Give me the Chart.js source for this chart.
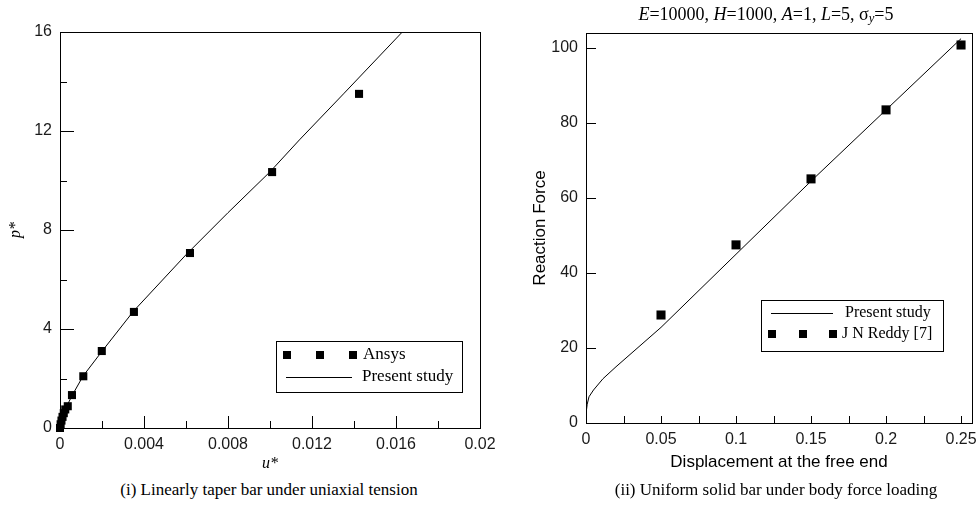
<!DOCTYPE html>
<html lang="en">
<head>
<meta charset="UTF-8">
<title>Bar response</title>
<style>
  html, body { margin: 0; padding: 0; background: #fff; }
  #wrap { position: relative; width: 980px; height: 508px; overflow: hidden; background: #fff; }
  canvas { position: absolute; top: 0; }
  #c1 { left: 0; }
  #c2 { left: 490px; }
  .cap { position: absolute; top: 480px; width: 400px; line-height: 20px; text-align: center;
         font-family: 'Liberation Serif', 'Times New Roman', serif; font-size: 17px; color: #000; }
</style>
</head>
<body>
<div id="wrap">
  <canvas id="c1" width="520" height="478"></canvas>
  <canvas id="c2" width="490" height="478"></canvas>
  <div class="cap" style="left:69px">(i) Linearly taper bar under uniaxial tension</div>
  <div class="cap" style="left:576px">(ii) Uniform solid bar under body force loading</div>
</div>
<script src="https://cdn.jsdelivr.net/npm/chart.js"></script>
<script>
// --- chart (i): taper bar ---
var uTicks = [0, 0.004, 0.008, 0.012, 0.016, 0.02];
var uMinor = [0.002, 0.006, 0.01, 0.014, 0.018];
var pTicks = [0, 4, 8, 12, 16];
var pMinor = [2, 6, 10, 14];
var ansysU = [0, 0.00003, 0.00007, 0.00012, 0.00018, 0.00025, 0.00037, 0.00057, 0.00111, 0.00199, 0.00352, 0.00619, 0.0101, 0.01424];
var ansysP = [0, 0.15, 0.3, 0.45, 0.6, 0.75, 0.88, 1.33, 2.09, 3.11, 4.69, 7.07, 10.34, 13.5];
var study1U = [0, 0.0001, 0.0003, 0.0006, 0.0011, 0.002, 0.0035, 0.006, 0.008, 0.01, 0.0114, 0.0135, 0.0163];
var study1P = [0, 0.35, 0.85, 1.35, 2.1, 3.1, 4.72, 7.0, 8.7, 10.35, 11.64, 13.5, 16];

// --- chart (ii): uniform bar ---
var dispTicks = [0, 0.05, 0.1, 0.15, 0.2, 0.25];
var dispMinor = [0.025, 0.075, 0.125, 0.175, 0.225];
var forceTicks = [0, 20, 40, 60, 80, 100];
var reddyU = [0.05, 0.1, 0.15, 0.2, 0.25];
var reddyF = [28.8, 47.5, 65.1, 83.5, 100.8];
var study2U = [0, 0, 0.0008, 0.002, 0.005, 0.0113, 0.02, 0.03, 0.05, 0.1, 0.15, 0.2, 0.25];
var study2F = [0, 2.5, 5, 7, 8.8, 11.8, 15, 18.5, 25.5, 45, 64.5, 83.5, 102.5];

function pts(xs, ys) {
  return xs.map(function(x, i) { return {x: x, y: ys[i]}; });
}
function fmt(v) { return String(Math.round(v * 1e6) / 1e6); }
function tickObjs(arr) { return arr.map(function(v) { return {value: v}; }); }

var sans = "'Liberation Sans', Arial, sans-serif";
var serif = "'Liberation Serif', 'Times New Roman', serif";

// box around the plot area
var framePlugin = {
  id: 'frame',
  afterDraw: function(chart) {
    var a = chart.chartArea, ctx = chart.ctx;
    ctx.save();
    ctx.strokeStyle = '#000';
    ctx.lineWidth = 1;
    ctx.strokeRect(Math.round(a.left) + 0.5, Math.round(a.top) + 0.5,
                   Math.round(a.right - a.left), Math.round(a.bottom - a.top));
    ctx.restore();
  }
};

// inward tick marks
var inTicksPlugin = {
  id: 'inTicks',
  afterDraw: function(chart, args, opts) {
    var a = chart.chartArea, ctx = chart.ctx;
    ctx.save();
    ctx.strokeStyle = '#000';
    ctx.lineWidth = 1;
    ctx.beginPath();
    (opts.x || []).forEach(function(set) {
      set.values.forEach(function(v) {
        var px = Math.round(chart.scales.x.getPixelForValue(v)) + 0.5;
        ctx.moveTo(px, a.bottom);
        ctx.lineTo(px, a.bottom - set.len);
      });
    });
    (opts.y || []).forEach(function(set) {
      set.values.forEach(function(v) {
        var py = Math.round(chart.scales.y.getPixelForValue(v)) + 0.5;
        ctx.moveTo(a.left, py);
        ctx.lineTo(a.left + set.len, py);
      });
    });
    ctx.stroke();
    ctx.restore();
  }
};

// legend box with three markers / line sample
var boxLegendPlugin = {
  id: 'boxLegend',
  afterDraw: function(chart, args, opts) {
    if (!opts.box) return;
    var ctx = chart.ctx, b = opts.box;
    ctx.save();
    ctx.fillStyle = '#fff';
    ctx.fillRect(b[0], b[1], b[2], b[3]);
    ctx.strokeStyle = '#000';
    ctx.lineWidth = 1;
    ctx.strokeRect(b[0] + 0.5, b[1] + 0.5, b[2], b[3]);
    ctx.font = opts.size + 'px ' + serif;
    ctx.textBaseline = 'middle';
    ctx.fillStyle = '#000';
    opts.rows.forEach(function(r) {
      if (r.marks) {
        r.marks.forEach(function(mx) {
          ctx.fillRect(mx - 4, r.y - 4, 8, 8);
        });
      } else {
        ctx.beginPath();
        ctx.moveTo(r.line[0], r.y + 0.5);
        ctx.lineTo(r.line[1], r.y + 0.5);
        ctx.stroke();
      }
      ctx.fillText(chart.data.datasets[r.ds].label, r.textX, r.y);
    });
    ctx.restore();
  }
};

// title with italic symbols
var richTitlePlugin = {
  id: 'richTitle',
  afterDraw: function(chart, args, opts) {
    if (!opts.parts) return;
    var ctx = chart.ctx;
    ctx.save();
    ctx.textBaseline = 'middle';
    ctx.fillStyle = '#000';
    function setFont(p) {
      ctx.font = (p.it ? 'italic ' : '') + (p.sub ? opts.size * 0.7 : opts.size) + 'px ' + serif;
    }
    var total = 0;
    opts.parts.forEach(function(p) { setFont(p); total += ctx.measureText(p.t).width; });
    var x = opts.cx - total / 2;
    opts.parts.forEach(function(p) {
      setFont(p);
      ctx.fillText(p.t, x, opts.cy + (p.sub ? 4 : 0));
      x += ctx.measureText(p.t).width;
    });
    ctx.restore();
  }
};

function axisX(min, max, ticks, title, titleFont, height) {
  return {
    type: 'linear', min: min, max: max,
    afterBuildTicks: function(s) { s.ticks = tickObjs(ticks); },
    afterFit: function(s) { s.height = height; s.paddingLeft = 0; s.paddingRight = 0; },
    grid: { display: false, drawTicks: false },
    border: { display: false },
    ticks: { padding: 7, color: '#1a1a1a', font: { family: sans, size: 16 }, maxRotation: 0, autoSkip: false,
             callback: function(v) { return fmt(v); } },
    title: { display: true, text: title, color: '#000', font: titleFont, padding: { top: 0, bottom: 5 } }
  };
}
function axisY(min, max, ticks, title, titleFont, width, tpad) {
  return {
    type: 'linear', min: min, max: max,
    afterBuildTicks: function(s) { s.ticks = tickObjs(ticks); },
    afterFit: function(s) { s.width = width; s.paddingTop = 0; s.paddingBottom = 0; },
    grid: { display: false, drawTicks: false },
    border: { display: false },
    ticks: { padding: 8, color: '#1a1a1a', font: { family: sans, size: 16 }, autoSkip: false,
             callback: function(v) { return fmt(v); } },
    title: { display: true, text: title, color: '#000', font: titleFont, padding: { top: tpad, bottom: 0 } }
  };
}

new Chart(document.getElementById('c1'), {
  type: 'scatter',
  data: {
    datasets: [{
      label: 'Ansys',
      data: pts(ansysU, ansysP),
      pointStyle: 'rect', pointRadius: 5.7, backgroundColor: '#000', borderWidth: 0,
      showLine: false, clip: false
    }, {
      label: 'Present study',
      data: pts(study1U, study1P),
      showLine: true, pointRadius: 0, borderColor: '#000', borderWidth: 1, tension: 0
    }]
  },
  options: {
    responsive: false, animation: false, devicePixelRatio: 1,
    layout: { padding: { left: 0, right: 40, top: 32, bottom: 0 } },
    scales: {
      x: axisX(0, 0.02, uTicks, 'u*', { family: serif, size: 16, style: 'italic' }, 50),
      y: axisY(0, 16, pTicks, 'p*', { family: serif, size: 16, style: 'italic' }, 60, 6)
    },
    plugins: {
      legend: { display: false },
      tooltip: { enabled: false },
      inTicks: {
        x: [{ values: uTicks, len: 12 }, { values: uMinor, len: 7 }],
        y: [{ values: pTicks, len: 14 }, { values: pMinor, len: 7 }]
      },
      boxLegend: {
        box: [276, 341, 186, 51], size: 17,
        rows: [
          { ds: 0, y: 355, marks: [287, 320, 353], textX: 363 },
          { ds: 1, y: 377, line: [286, 352], textX: 362 }
        ]
      }
    }
  },
  plugins: [framePlugin, inTicksPlugin, boxLegendPlugin]
});

new Chart(document.getElementById('c2'), {
  type: 'scatter',
  data: {
    datasets: [{
      label: 'J N Reddy [7]',
      data: pts(reddyU, reddyF),
      pointStyle: 'rect', pointRadius: 6.4, backgroundColor: '#000', borderWidth: 0,
      showLine: false, clip: false
    }, {
      label: 'Present study',
      data: pts(study2U, study2F),
      showLine: true, pointRadius: 0, borderColor: '#000', borderWidth: 1, tension: 0
    }]
  },
  options: {
    responsive: false, animation: false, devicePixelRatio: 1,
    layout: { padding: { left: 0, right: 8, top: 33, bottom: 0 } },
    scales: {
      x: axisX(0, 0.2573, dispTicks, 'Displacement at the free end', { family: sans, size: 17 }, 55),
      y: axisY(0, 104, forceTicks, 'Reaction Force', { family: sans, size: 17 }, 96, 40)
    },
    plugins: {
      legend: { display: false },
      tooltip: { enabled: false },
      inTicks: {
        x: [{ values: dispTicks, len: 7 }, { values: dispMinor, len: 7 }],
        y: [{ values: forceTicks, len: 10 }]
      },
      boxLegend: {
        box: [271, 300, 182, 51], size: 16,
        rows: [
          { ds: 1, y: 313, line: [281, 343], textX: 355 },
          { ds: 0, y: 334, marks: [282, 313, 343], textX: 352 }
        ]
      },
      richTitle: {
        cx: 276, cy: 15, size: 18,
        parts: [
          { t: 'E', it: true }, { t: '=10000, ' },
          { t: 'H', it: true }, { t: '=1000, ' },
          { t: 'A', it: true }, { t: '=1, ' },
          { t: 'L', it: true }, { t: '=5, ' },
          { t: '\u03c3' }, { t: 'y', it: true, sub: true }, { t: '=5' }
        ]
      }
    }
  },
  plugins: [framePlugin, inTicksPlugin, boxLegendPlugin, richTitlePlugin]
});
</script>
</body>
</html>
